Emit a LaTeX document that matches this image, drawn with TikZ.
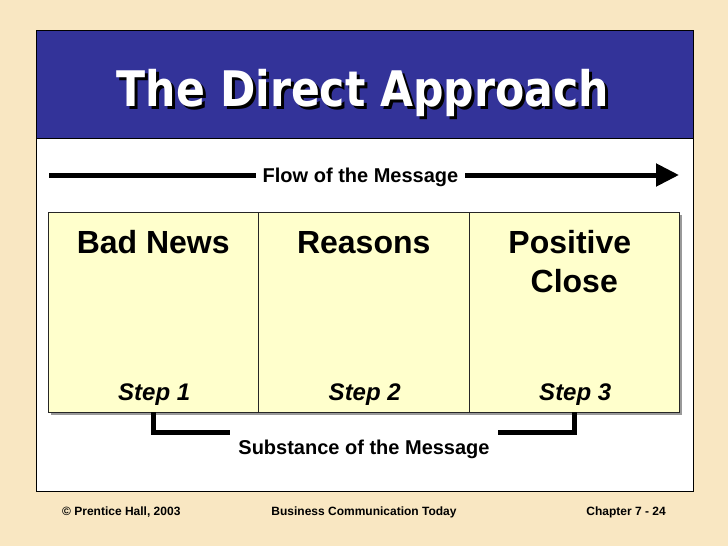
\documentclass[tikz,border=0pt]{standalone}
\usepackage{fontspec}
\setmainfont{Liberation Sans}
\newfontfamily\titlefont[FakeStretch=0.87]{DejaVu Sans}
\usetikzlibrary{arrows.meta,positioning,calc}
\definecolor{ParchBg}{RGB}{249,231,194}
\definecolor{SlideBlue}{RGB}{51,51,153}
\definecolor{StepFill}{RGB}{255,255,204}

\tikzset{
  stepbox/.style={draw=black!85,fill=StepFill,line width=0.8pt,
    minimum width=210.5pt,minimum height=200pt,inner sep=0pt,outer sep=0pt},
  headtxt/.style={font=\bfseries\fontsize{32}{39}\selectfont,align=center,inner sep=0pt},
  steptxt/.style={font=\bfseries\itshape\fontsize{24}{28}\selectfont,inner sep=0pt},
  msgtxt/.style={font=\bfseries\fontsize{20}{24}\selectfont,
    text height=14.3pt,text depth=0pt,inner xsep=7pt},
  titletxt/.style={font=\titlefont\bfseries\fontsize{49}{56}\selectfont,inner sep=0pt},
  foot/.style={font=\bfseries\fontsize{12}{14}\selectfont,inner sep=0pt},
  fatline/.style={line width=5pt},
}

\begin{document}
\begin{tikzpicture}[x=1pt,y=-1pt]
  % slide and panel
  \fill[ParchBg] (0,0) rectangle (728,546);
  \fill[white] (36,30) rectangle (693,491);
  \fill[SlideBlue] (36,30) rectangle (693,138);
  \draw[line width=0.8pt] (36,30) rectangle (693,491);
  \draw[line width=0.8pt] (36,138) -- (693,138);

  \node[titletxt,text=black,anchor=base] at (366,109) {The Direct Approach};
  \node[titletxt,text=white,anchor=base] (title) at (363,106) {The Direct Approach};

  % flow arrow
  \coordinate (flowL) at (49,175);
  \coordinate (flowR) at (679,175);
  \node[msgtxt] (flow) at (360.5,175) {Flow of the Message};
  \draw[fatline] (flowL) -- (flow.west);
  \draw[fatline,-{Triangle[length=23pt,width=22pt]}] (flow.east) -- (flowR);

  % the three steps
  \fill[black!40] (51,215) rectangle (682,415);
  \node[stepbox] (bad) at (153.25,312) {};
  \node[stepbox,right=0pt of bad] (reasons) {};
  \node[stepbox,right=0pt of reasons] (close) {};

  \node[headtxt,anchor=base] (badtxt) at ($(bad.north)+(0,41)$) {Bad News};
  \node[headtxt,anchor=base] (reatxt) at ($(reasons.north)+(0,41)$) {Reasons};
  \node[headtxt,anchor=base] (clotxt) at ($(close.north)+(0,80)$) {Positive\hspace*{0.278em}\\Close};

  \node[steptxt,anchor=base] (s1) at ($(bad.south)+(1,-12)$) {Step 1};
  \node[steptxt,anchor=base] (s2) at ($(reasons.south)+(1,-12)$) {Step 2};
  \node[steptxt,anchor=base] (s3) at ($(close.south)+(1,-12)$) {Step 3};

  % bracket
  \node[msgtxt,inner xsep=8pt] (subst) at (364,447) {Substance of the Message};
  \coordinate (bl) at ($(bad.south)+(0,20)$);
  \coordinate (br) at ($(close.south)+(0,20)$);
  \draw[fatline] (bad.south) -- (bl) -- (bl -| subst.west);
  \draw[fatline] (close.south) -- (br) -- (br -| subst.east);

  % footer
  \node[foot,anchor=base west] (copy) at (62,515) {© Prentice Hall, 2003};
  \node[foot,anchor=base] (book) at (364,515) {Business Communication Today};
  \node[foot,anchor=base east] (chap) at (666,515) {Chapter 7 - 24};
\end{tikzpicture}
\end{document}
